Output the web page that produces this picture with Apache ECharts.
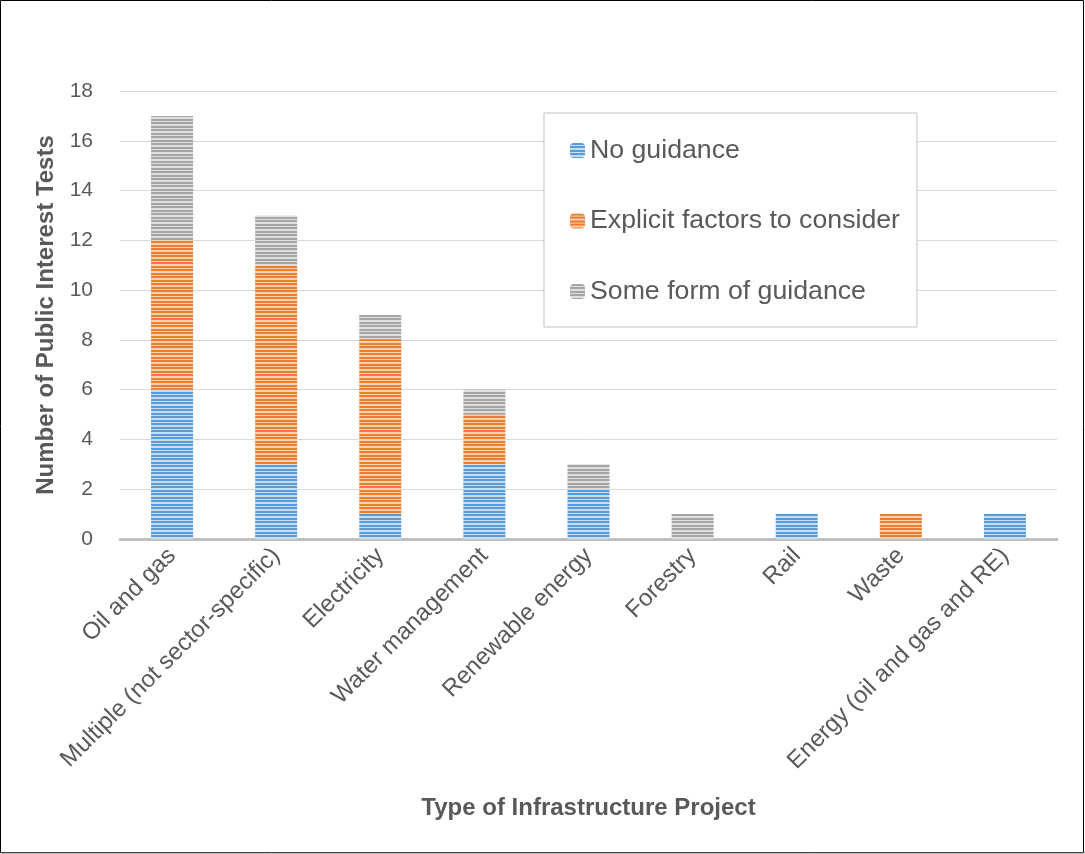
<!DOCTYPE html>
<html>
<head>
<meta charset="utf-8">
<title>Public Interest Tests by Infrastructure Type</title>
<script src="https://cdn.jsdelivr.net/npm/echarts@6/dist/echarts.min.js"></script>
<style>
  html, body { margin: 0; padding: 0; background: #fff; }
  #chart { width: 1085px; height: 854px; }
</style>
</head>
<body>
<div id="chart"></div>
<script>
// Project categories along the x axis
const categories = [
  'Oil and gas',
  'Multiple (not sector-specific)',
  'Electricity',
  'Water management',
  'Renewable energy',
  'Forestry',
  'Rail',
  'Waste',
  'Energy (oil and gas and RE)'
];

// Counts per category for each type of guidance
const noGuidance        = [6, 3, 1, 3, 2, 0, 1, 0, 1];
const explicitFactors   = [6, 8, 7, 2, 0, 0, 0, 1, 0];
const someFormGuidance  = [5, 2, 1, 1, 1, 1, 0, 0, 0];

const yTicks = [0, 2, 4, 6, 8, 10, 12, 14, 16, 18];

// Horizontal-stripe fill: dark stripe / light stripe tile
function stripes(dark, light) {
  const c = document.createElement('canvas');
  c.width = 4; c.height = 7;
  const g = c.getContext('2d');
  g.fillStyle = light;
  g.fillRect(0, 0, 4, 7);
  g.fillStyle = dark;
  g.fillRect(0, 0, 4, 2);
  g.fillRect(0, 3, 4, 2);
  return { image: c, repeat: 'repeat' };
}

const blueFill   = stripes('#5b9bd5', '#c6dcf1');
const orangeFill = stripes('#ed7d31', '#f9cfb1');
const grayFill   = stripes('#a5a5a5', '#dedede');

const textColor = '#595959';
const font = 'Arial, "Liberation Sans", sans-serif';

const chart = echarts.init(document.getElementById('chart'), null, { renderer: 'canvas' });

function series(name, data, fill) {
  return {
    name: name,
    type: 'bar',
    stack: 'total',
    barWidth: 42,
    data: data,
    itemStyle: { color: fill },
    emphasis: { disabled: true }
  };
}

chart.setOption({
  animation: false,
  backgroundColor: '#ffffff',
  textStyle: { fontFamily: font },
  grid: { left: 120, right: 28, top: 91, bottom: 315, containLabel: false },
  legend: {
    orient: 'vertical',
    left: 544,
    top: 113,
    padding: [24, 17, 22, 26],
    itemGap: 43.5,
    itemWidth: 15,
    itemHeight: 15,
    borderColor: '#bfbfbf',
    borderWidth: 1,
    backgroundColor: '#ffffff',
    textStyle: { fontSize: 26.7, color: textColor, fontFamily: font },
    data: ['No guidance', 'Explicit factors to consider', 'Some form of guidance']
  },
  xAxis: {
    type: 'category',
    data: categories,
    name: 'Type of Infrastructure Project',
    nameLocation: 'middle',
    nameGap: 257,
    nameTextStyle: { fontSize: 24, fontWeight: 'bold', color: textColor, fontFamily: font },
    axisLine: { lineStyle: { color: '#bfbfbf', width: 3 } },
    axisTick: { show: false },
    axisLabel: {
      rotate: 45,
      interval: 0,
      margin: 13,
      fontSize: 24,
      color: textColor,
      fontFamily: font
    }
  },
  yAxis: {
    type: 'value',
    min: yTicks[0],
    max: yTicks[yTicks.length - 1],
    interval: 2,
    name: 'Number of Public Interest Tests',
    nameLocation: 'middle',
    nameGap: 58,
    nameTextStyle: { fontSize: 24, fontWeight: 'bold', color: textColor, fontFamily: font },
    axisLine: { show: false },
    axisTick: { show: false },
    axisLabel: { fontSize: 21, color: textColor, margin: 27, fontFamily: font },
    splitLine: { lineStyle: { color: '#d9d9d9', width: 1 } }
  },
  series: [
    series('No guidance', noGuidance, blueFill),
    series('Explicit factors to consider', explicitFactors, orangeFill),
    series('Some form of guidance', someFormGuidance, grayFill)
  ],
  graphic: [
    {
      type: 'rect',
      silent: true,
      shape: { x: 0.5, y: 0.5, width: 1083, height: 852 },
      style: { fill: null, stroke: '#000000', lineWidth: 1 },
      z: 100
    },
    {
      type: 'line',
      silent: true,
      shape: { x1: 0, y1: 853, x2: 1085, y2: 853 },
      style: { stroke: '#808080', lineWidth: 1 },
      z: 100
    }
  ]
});
</script>
</body>
</html>
